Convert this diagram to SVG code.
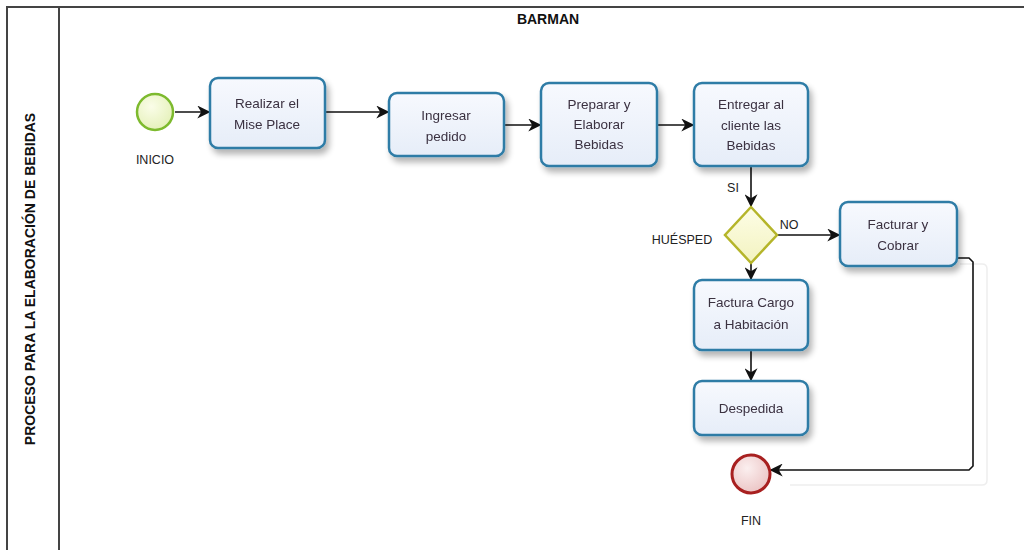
<svg xmlns="http://www.w3.org/2000/svg" width="1024" height="550" viewBox="0 0 1024 550">
<style>
.task{fill:url(#tg);stroke:#2D7BA6;stroke-width:2.5}
.t{font-family:"Liberation Sans",Arial,sans-serif;font-size:13.5px;fill:#3a3040;text-anchor:middle}
.lbl{font-family:"Liberation Sans",Arial,sans-serif;font-size:12.5px;fill:#222;text-anchor:middle}
.hd{font-family:"Liberation Sans",Arial,sans-serif;font-size:14px;font-weight:bold;fill:#111;text-anchor:middle}
.c{fill:none;stroke:#111;stroke-width:1.6;marker-end:url(#ah)}
.lane{stroke:#444;stroke-width:2;fill:none}
</style>
<defs>
<linearGradient id="tg" x1="0" y1="0" x2="0" y2="1"><stop offset="0" stop-color="#F7F9FE"/><stop offset="1" stop-color="#E6EDF8"/></linearGradient>
<radialGradient id="gs" cx="0.4" cy="0.35" r="0.7"><stop offset="0" stop-color="#FAFDE8"/><stop offset="1" stop-color="#E4F0B8"/></radialGradient>
<radialGradient id="rs" cx="0.4" cy="0.35" r="0.7"><stop offset="0" stop-color="#FBEFEF"/><stop offset="1" stop-color="#EBC3C3"/></radialGradient>
<linearGradient id="dg" x1="0" y1="0" x2="0" y2="1"><stop offset="0" stop-color="#FDFDE6"/><stop offset="1" stop-color="#F3F3C0"/></linearGradient>
<filter id="sh" x="-20%" y="-20%" width="150%" height="160%"><feGaussianBlur in="SourceAlpha" stdDeviation="3"/><feOffset dx="3" dy="5"/><feComponentTransfer><feFuncA type="linear" slope="0.3"/></feComponentTransfer><feMerge><feMergeNode/><feMergeNode in="SourceGraphic"/></feMerge></filter>
<marker id="ah" viewBox="0 0 10 10" refX="9" refY="5" markerWidth="13" markerHeight="13" orient="auto" markerUnits="userSpaceOnUse"><path d="M0,0 L10,5 L0,10 L3,5 z" fill="#111"/></marker>
</defs>
<rect width="1024" height="550" fill="#fff"/>
<g id="pool">
<path class="lane" d="M7,550 V7 H1024"/>
<line class="lane" x1="59" y1="7" x2="59" y2="550"/>
<text class="hd" x="548" y="24">BARMAN</text>
<text class="hd" transform="translate(35,279) rotate(-90)">PROCESO PARA LA ELABORACIÓN DE BEBIDAS</text>
</g>
<g id="connectors">
<line class="c" x1="175" y1="112" x2="209" y2="112"/>
<line class="c" x1="326" y1="112" x2="388" y2="112"/>
<line class="c" x1="505" y1="125" x2="540" y2="125"/>
<line class="c" x1="658" y1="125" x2="693" y2="125"/>
<line class="c" x1="751" y1="167" x2="751" y2="206"/>
<line class="c" x1="778" y1="235" x2="839" y2="235"/>
<line class="c" x1="751" y1="263" x2="751" y2="279"/>
<line class="c" x1="751" y1="351" x2="751" y2="380"/>
<path d="M960,264 H982 Q987,264 987,269 V480 Q987,485 982,485 H790" fill="none" stroke="#eee" stroke-width="1.5"/>
<path class="c" d="M958,258 H969 L973,262 V466 L969,470 H771"/>
<text class="lbl" x="733" y="192">SI</text>
<text class="lbl" x="789" y="229">NO</text>
</g>
<g id="inicio">
<circle cx="155" cy="112" r="18" fill="url(#gs)" stroke="#7DBA2E" stroke-width="2.5"/>
<text class="lbl" x="155" y="164">INICIO</text>
</g>
<g id="realizar" filter="url(#sh)">
<rect class="task" x="210" y="78" width="115" height="70" rx="8"/>
<text class="t" x="267" y="108">Realizar el</text>
<text class="t" x="267" y="129">Mise Place</text>
</g>
<g id="ingresar" filter="url(#sh)">
<rect class="task" x="389" y="93" width="115" height="63" rx="8"/>
<text class="t" x="446" y="120">Ingresar</text>
<text class="t" x="446" y="141">pedido</text>
</g>
<g id="preparar" filter="url(#sh)">
<rect class="task" x="541" y="83" width="116" height="83" rx="8"/>
<text class="t" x="599" y="109">Preparar y</text>
<text class="t" x="599" y="129">Elaborar</text>
<text class="t" x="599" y="149">Bebidas</text>
</g>
<g id="entregar" filter="url(#sh)">
<rect class="task" x="694" y="83" width="114" height="83" rx="8"/>
<text class="t" x="751" y="109">Entregar al</text>
<text class="t" x="751" y="130">cliente las</text>
<text class="t" x="751" y="150">Bebidas</text>
</g>
<g id="huesped">
<path d="M751,207 L777,235 L751,263 L725,235 Z" fill="url(#dg)" stroke="#B5B52A" stroke-width="2.5"/>
<text class="lbl" x="682" y="244">HUÉSPED</text>
</g>
<g id="facturar" filter="url(#sh)">
<rect class="task" x="840" y="202" width="117" height="64" rx="8"/>
<text class="t" x="898" y="229">Facturar y</text>
<text class="t" x="898" y="250">Cobrar</text>
</g>
<g id="cargo" filter="url(#sh)">
<rect class="task" x="694" y="280" width="114" height="70" rx="8"/>
<text class="t" x="751" y="307">Factura Cargo</text>
<text class="t" x="751" y="329">a Habitación</text>
</g>
<g id="despedida" filter="url(#sh)">
<rect class="task" x="694" y="381" width="114" height="54" rx="8"/>
<text class="t" x="751" y="413">Despedida</text>
</g>
<g id="fin">
<circle cx="751" cy="474" r="19" fill="url(#rs)" stroke="#A82020" stroke-width="3"/>
<text class="lbl" x="751" y="525">FIN</text>
</g>
</svg>
